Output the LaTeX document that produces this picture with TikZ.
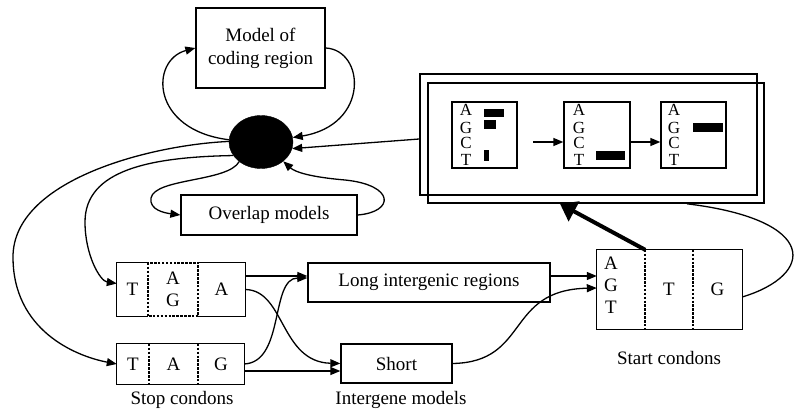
\documentclass[tikz,border=0pt]{standalone}
\usepackage{fontspec}
\setmainfont{Liberation Serif}
\usetikzlibrary{shapes.geometric,arrows.meta,calc}
\begin{document}
\begin{tikzpicture}[x=1pt,y=-1pt,
  every node/.style={font=\fontsize{19}{23}\selectfont},
  box/.style={draw,line width=1.3pt,inner sep=0pt,align=center},
  framebox/.style={draw,line width=1.6pt,inner sep=0pt},
  cell/.style={inner sep=0pt,align=center},
  letter/.style={inner sep=0pt,font=\fontsize{17}{17}\selectfont},
  arr/.style={line width=1.3pt,-{Triangle[length=10pt,width=8pt]}},
  plainline/.style={line width=1.3pt},
  dashdiv/.style={line width=1.5pt,dash pattern=on 2.5pt off 1.4pt},
  bigarr/.style={line width=4pt,-{Triangle[length=16pt,width=22pt]}},
  hubstyle/.style={ellipse,draw,fill=black,inner sep=0pt,minimum width=64pt,minimum height=53pt}]
\useasboundingbox (0,0) rectangle (796,412);

% top part
\node[box,minimum width=129pt,minimum height=80pt] (coding) at (260.5,48) {Model of\\coding region};
\node[hubstyle] (hub) at (261,142) {};
\node[box,minimum width=176pt,minimum height=40pt] (overlap) at (269,215) {Overlap models};

% frames with panels
\node[framebox,minimum width=337pt,minimum height=121pt] (frameback) at (588.5,134.5) {};
\node[framebox,minimum width=336pt,minimum height=120pt] (frame) at (596,143) {};
\node[box,minimum width=65pt,minimum height=66pt] (p1) at (484.5,135) {};
\node[box,minimum width=66pt,minimum height=66pt] (p2) at (597,135) {};
\node[box,minimum width=65pt,minimum height=66pt] (p3) at (693.5,135) {};
\foreach \p/\x in {1/466,2/579,3/674}{
  \foreach \l/\y [count=\i] in {A/116,G/133,C/149,T/165}{
    \node[letter,anchor=base] (p\p l\i) at (\x,\y) {\l};
  }
}
\fill (484,109) rectangle (504,117);
\fill (484,120) rectangle (496,129);
\fill (484,150) rectangle (489,161);
\fill (596,151) rectangle (625,160);
\fill (693,123) rectangle (723,132);
\coordinate (pa) at (533,142);
\draw[arr] (pa) -- ([yshift=-7pt]p2.west);
\draw[arr] ([yshift=-7pt]p2.east) -- ([yshift=-7pt]p3.west);

% stop codons
\node[cell,minimum width=31pt,minimum height=53pt] (sA1) at (132.5,289.5) {T};
\node[cell,minimum width=50pt,minimum height=53pt,font=\fontsize{19}{22}\selectfont] (sA2) at (173,289.5) {A\\G};
\node[cell,minimum width=47pt,minimum height=53pt] (sA3) at (221.5,289.5) {A};
\draw[plainline] (sA2.north west) -- (sA1.north west) -- (sA1.south west) -- (sA2.south west);
\draw[plainline] (sA2.north east) -- (sA3.north east) -- (sA3.south east) -- (sA2.south east);
\draw[dashdiv] (sA2.north west) rectangle (sA2.south east);

\node[cell,minimum width=32pt,minimum height=40pt] (sB1) at (133,364) {T};
\node[cell,minimum width=49pt,minimum height=40pt] (sB2) at (173.5,364) {A};
\node[cell,minimum width=46pt,minimum height=40pt] (sB3) at (221,364) {G};
\draw[plainline] (sB1.north west) rectangle (sB3.south east);
\draw[dashdiv] (sB2.north west) -- (sB2.south west) (sB2.north east) -- (sB2.south east);

% intergene models
\node[box,minimum width=242pt,minimum height=39pt] (long) at (429,282.5) {Long intergenic regions};
\node[box,minimum width=111pt,minimum height=39pt] (short) at (396.5,363.5) {Short};

% start codons
\node[cell,minimum width=48pt,minimum height=79pt] (st1) at (621,289.5) {};
\node[cell,font=\fontsize{19}{22}\selectfont] (stl) at (611,285.5) {A\\G\\T};
\node[cell,minimum width=48pt,minimum height=79pt] (st2) at (669,289.5) {T};
\node[cell,minimum width=49pt,minimum height=79pt] (st3) at (717.5,289.5) {G};
\draw[plainline] (st1.north west) rectangle (st3.south east);
\draw[dashdiv] (st2.north west) -- (st2.south west) (st2.north east) -- (st2.south east);

% labels
\node (lstop) at (182,400) {Stop condons};
\node (linter) at (401,400) {Intergene models};
\node (lstart) at (669,358) {Start condons};

% connectors around hub
\draw[arr] (hub.176) .. controls (150,130) and (150,60) .. (coding.west);
\draw[arr] (coding.east) .. controls (365,50) and (370,125) .. (hub.8);
\draw[arr] ([yshift=-4.5pt]frameback.west) -- (hub.-12);
\draw[arr] (hub.222) .. controls (228,182) and (155,178) .. (151,198) .. controls (149,210) and (165,213) .. (overlap.west);
\draw[arr] (overlap.east) .. controls (395,212) and (395,185) .. (345,180) .. controls (310,177) and (295,172) .. (hub.-41);
\draw[arr] (hub.179) .. controls (150,145) and (13,180) .. (13,257) .. controls (13,330) and (75,356) .. (sB1.west);
\draw[arr] (hub.206) .. controls (150,157) and (85,170) .. (85,222) .. controls (85,255) and (100,281) .. ([yshift=6pt]sA1.west);

% stop -> intergene
\draw[arr] ([yshift=13.5pt]sA3.east) -- ([yshift=6.5pt]long.west);
\draw[arr] (sA3.east) .. controls (285,290) and (280,362) .. (short.west);
\draw[arr] (sB3.east) .. controls (285,362) and (270,278) .. ([yshift=4.5pt]long.west);
\draw[arr] ([yshift=-7pt]sB3.east) -- ([yshift=-7.5pt]short.west);

% intergene -> start
\draw[arr] ([yshift=6.5pt]long.east) -- ([yshift=13.5pt]st1.west);
\draw[arr] (short.east) .. controls (530,362) and (505,290) .. ([yshift=1.5pt]st1.west);

% start -> frames
\draw[bigarr] (st1.north east) -- ([xshift=-36pt]frame.south);
\draw[plainline] ([yshift=-7.5pt]st3.east) .. controls (815,275) and (820,220) .. ([xshift=91pt]frame.south);
\end{tikzpicture}
\end{document}
